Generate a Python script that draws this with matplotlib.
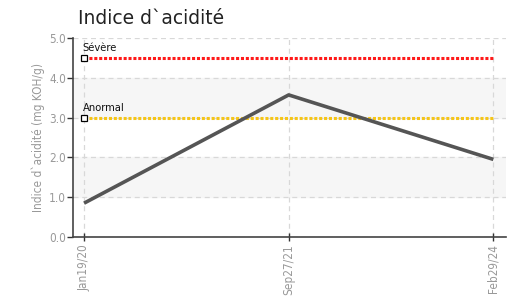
import matplotlib
matplotlib.use("Agg")
import matplotlib.pyplot as plt

dates = ["Jan19/20", "Sep27/21", "Feb29/24"]
values = [0.85, 3.57, 1.95]
threshold_names = ["Sévère", "Anormal"]
threshold_values = [4.5, 3.0]
threshold_colors = ["#ff1a1a", "#f5c518"]
yticks = [0.0, 1.0, 2.0, 3.0, 4.0, 5.0]

fig = plt.figure(figsize=(5.09, 2.96), dpi=100)
ax = fig.add_axes([0.1434, 0.1993, 0.85, 0.6723])

x = list(range(len(dates)))
ax.set_xlim(-0.054, 2.06)
ax.set_ylim(0, 5)

for lo, hi in [(1, 2), (3, 4)]:
    ax.axhspan(lo, hi, color="#f6f6f6", zorder=0)

ax.grid(True, color="#d8d8d8", linestyle=(0, (4, 3)), linewidth=0.9, zorder=1)

for name, val, col in zip(threshold_names, threshold_values, threshold_colors):
    ax.plot([x[0], x[-1]], [val, val], color=col, linestyle=(0, (1, 0.6)), linewidth=2.2, zorder=3)
    ax.plot([x[0]], [val], marker="s", markersize=4.5, markerfacecolor="white",
            markeredgecolor="black", markeredgewidth=0.9, zorder=5)
    ax.annotate(name, (x[0], val), xytext=(-1, 3.5), textcoords="offset points",
                fontsize=8, color="#111111", fontstretch="condensed", ha="left", va="bottom")

ax.plot(x, values, color="#555555", linewidth=2.6, zorder=4, solid_capstyle="butt")

ax.set_xticks(x)
ax.set_xticklabels(dates, rotation=90, color="#999999", fontsize=8.5, fontstretch="condensed")
ax.set_yticks(yticks)
ax.set_yticklabels([f"{v:.1f}" for v in yticks], color="#999999", fontsize=8.5, fontstretch="condensed")
ax.tick_params(axis="x", direction="inout", length=6, width=1, color="#333333", pad=2)
ax.tick_params(axis="y", direction="out", length=4, width=1, color="#333333", pad=1)

for s in ["top", "right"]:
    ax.spines[s].set_visible(False)
for s in ["left", "bottom"]:
    ax.spines[s].set_color("#444444")
    ax.spines[s].set_linewidth(1.2)

ax.set_ylabel("Indice d`acidité (mg KOH/g)", color="#999999", fontsize=8.5, fontstretch="condensed", labelpad=3)
fig.text(0.153, 0.905, "Indice d`acidité", fontsize=13.5, color="#222222", ha="left", va="bottom")

fig.savefig("out.png", dpi=100)
